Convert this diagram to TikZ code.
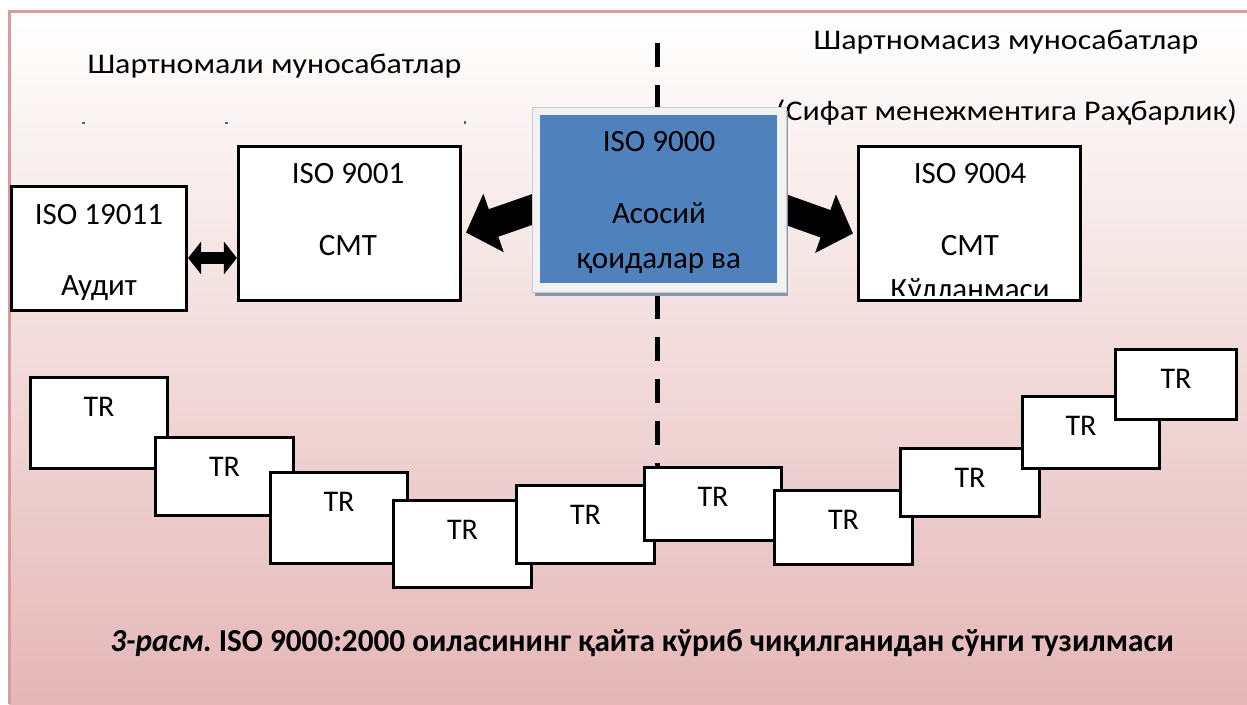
\documentclass[tikz,border=0pt]{standalone}
\usepackage{fontspec}
\setmainfont{Carlito}
\usetikzlibrary{arrows.meta,calc,shadows,fit}
\definecolor{pinkbot}{RGB}{229,183,183}
\definecolor{framepink}{RGB}{220,155,155}
\definecolor{isoblue}{RGB}{79,129,189}
\definecolor{blueshadow}{RGB}{140,150,170}
\begin{document}
\begin{tikzpicture}[x=1pt,y=-1pt,
  box/.style={draw=black,line width=3.2pt,fill=white,inner sep=0pt,
    drop shadow={shadow xshift=1.8pt,shadow yshift=-1.8pt,fill=black!70,opacity=1}},
  txt/.style={font=\fontsize{31}{36}\selectfont,inner sep=0pt,anchor=base},
  hdr/.style={font=\fontsize{28.5}{33}\selectfont,inner sep=0pt,anchor=base,xscale=1.12},
  trtxt/.style={font=\fontsize{30}{36}\selectfont,inner sep=0pt},
  blockarrow/.style={line width=29pt,-{Triangle[length=29pt,width=60pt]}},
  dblarrow/.style={line width=12pt,{Triangle[length=13pt,width=32pt]}-{Triangle[length=13pt,width=32pt]}},
  divider/.style={line width=5pt,dash pattern=on 24pt off 18pt}
]
\useasboundingbox (0,0) rectangle (1247,704);
\fill[white] (0,0) rectangle (1247,704);
\shade[top color=white,bottom color=pinkbot] (9,12) rectangle (1247,704);
\draw[framepink,line width=3pt] (9.5,704) -- (9.5,11) -- (1247,11);

% headers
\node[hdr] (hl) at (274.5,73) {Шартномали муносабатлар};
\node[hdr] (hr) at (1006,49) {Шартномасиз муносабатлар};
\node[hdr] (hr2) at (1006.5,120) {(Сифат менежментига Раҳбарлик)};
\fill[black!60] (82,122) rectangle (85,124);
\fill[black!60] (225,122) rectangle (228,124);
\fill[black!60] (464,121) rectangle (466,124);

% divider
\coordinate (dtop) at (657,43);
\coordinate (dbot) at (657,480);
\draw[divider] (dtop) -- (dbot);

% boxes
\node[box,minimum width=175pt,minimum height=124pt] (iso19011) at (99,248.5) {};
\node[box,minimum width=222pt,minimum height=154pt] (iso9001) at (349.5,223.5) {};
\node[box,minimum width=222pt,minimum height=154pt] (iso9004) at (969.5,223.5) {};

\node[txt] (t19a) at (99,224) {ISO 19011};
\node[txt] (t19b) at (99,295) {Аудит};
\node[txt] (t91a) at (348,183) {ISO 9001};
\node[txt] (t91b) at (348,255) {СМТ};
\node[txt] (t94a) at (970,183) {ISO 9004};
\node[txt] (t94b) at (970,255) {СМТ};
\begin{scope}
\clip (859,147) rectangle (1080,295);
\node[txt] (t94c) at (970,299) {Қўлланмаси};
\end{scope}

% double arrow
\coordinate (dy) at (0,258);
\draw[dblarrow] (iso19011.east |- dy) -- (iso9001.west |- dy);

% blue box arrows
\coordinate (bl) at (548,204);
\coordinate (br) at (770,204);
\coordinate (tl) at ($(iso9001.east)+(4,9)$);
\coordinate (tr) at ($(iso9004.west)+(-4,10)$);
\draw[blockarrow,draw=black!45,shift={(-2,-3)}] (bl) -- (tl);
\draw[blockarrow,draw=black!45,shift={(2,-3)}] (br) -- (tr);
\draw[blockarrow] (bl) -- (tl);
\draw[blockarrow] (br) -- (tr);

% central box
\fill[blueshadow] (535,111) rectangle (788,296);
\node[fill=black!5,draw=black!20,line width=0.6pt,inner sep=0pt,minimum width=254pt,minimum height=185pt] (blueframe) at (659,199.5) {};
\node[fill=isoblue,inner sep=0pt,minimum width=237pt,minimum height=168pt] (blue) at (658.5,199) {};
\node[txt] (t90a) at (659,151) {ISO 9000};
\node[txt] (t90b) at (659,223) {Асосий};
\node[txt] (t90c) at (659,268) {қоидалар ва};

% TR boxes
\foreach \i/\xa/\ya/\xb/\yb/\dx in {1/29/376/169/470/0, 2/154/436/295/517/0, 3/269/471/409/565/0,
  4/392/499/533/589/0, 5/515/484/656/565/0, 6/643/466/783/542/0, 7/773/489/914/566/0,
  8/899/447/1041/518/0, 9/1021/395/1161/470/-10, 10/1114/348/1238/421/0}{
  \node[box,fit={(\xa+1.6,\ya+1.6) (\xb-1.6,\yb-1.6)}] (tr\i) {};
  \node[trtxt] (trl\i) at ($(tr\i.north)+(\dx,31)$) {TR};
}

% caption
\node[inner sep=0pt,anchor=base,font=\bfseries\fontsize{32}{36}\selectfont,xscale=0.975] (cap) at (642,651)
  {{\itshape 3-расм.}\hspace{0.22em}ISO 9000:2000 оиласининг қайта кўриб чиқилганидан сўнги тузилмаси};
\end{tikzpicture}
\end{document}
